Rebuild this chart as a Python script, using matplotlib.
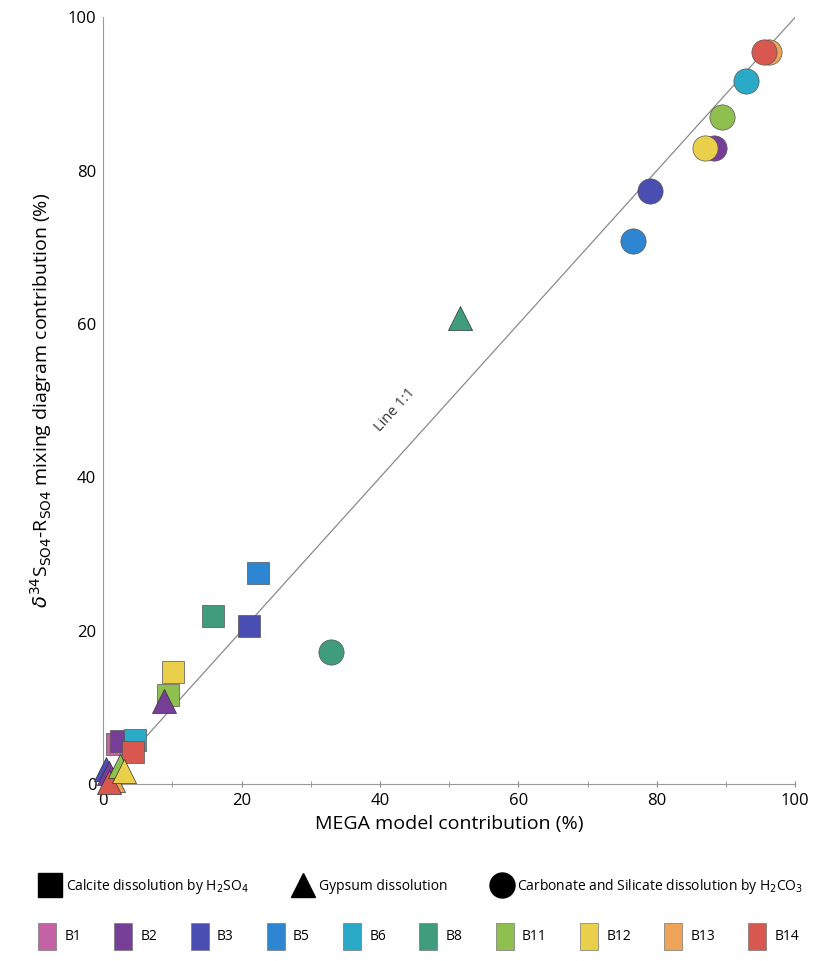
import matplotlib
matplotlib.use("Agg")
import matplotlib.pyplot as plt
from matplotlib.patches import Patch
from matplotlib.lines import Line2D

plt.rcParams['font.family'] = ['Open Sans', 'DejaVu Sans']

basins = ["B1", "B2", "B3", "B5", "B6", "B8", "B11", "B12", "B13", "B14"]
colors = ["#c462a6", "#773e98", "#4a4db2", "#2e86d2", "#2aaac6", "#3f9c7c",
          "#8fbf4e", "#ead04a", "#eea458", "#d8574f"]
cmap = dict(zip(basins, colors))

# Calcite dissolution by H2SO4 (squares)
sq_basin = ["B1", "B2", "B6", "B14", "B8", "B3", "B5", "B11", "B12"]
sq_x = [2.0, 2.6, 4.6, 4.3, 15.8, 21.0, 22.4, 9.3, 10.1]
sq_y = [5.3, 5.6, 5.8, 4.2, 21.9, 20.6, 27.6, 11.6, 14.6]

# Gypsum dissolution (triangles)
tr_basin = ["B3", "B2", "B13", "B14", "B11", "B12", "B2", "B8"]
tr_x = [0.4, 0.9, 1.4, 0.8, 2.4, 3.0, 8.8, 51.6]
tr_y = [2.0, 1.4, 0.6, 0.3, 2.4, 1.7, 10.9, 60.8]

# Carbonate and silicate dissolution by H2CO3 (circles)
ci_basin = ["B8", "B5", "B3", "B2", "B12", "B11", "B6", "B13", "B14"]
ci_x = [32.9, 76.6, 79.0, 88.3, 87.0, 89.5, 92.9, 96.2, 95.5]
ci_y = [17.2, 70.8, 77.4, 83.0, 83.0, 87.0, 91.7, 95.5, 95.5]

fig = plt.figure(figsize=(8.13, 9.61), dpi=100)
ax = fig.add_axes([0.127, 0.184, 0.851, 0.798])

ax.plot([0, 100], [0, 100], color="#8a8a8a", lw=0.9, zorder=1)
ax.text(42.2, 48.8, "Line 1:1", rotation=48, ha="center", va="center",
        fontsize=10.5, color="#333333")

for b, x, y in zip(sq_basin, sq_x, sq_y):
    ax.scatter(x, y, marker="s", s=260, color=cmap[b], edgecolors="#555555",
               linewidths=0.5, zorder=3, clip_on=False)
for b, x, y in zip(tr_basin, tr_x, tr_y):
    ax.scatter(x, y, marker="^", s=300, color=cmap[b], edgecolors="#333333",
               linewidths=0.5, zorder=4, clip_on=False)
for b, x, y in zip(ci_basin, ci_x, ci_y):
    ax.scatter(x, y, marker="o", s=330, color=cmap[b], edgecolors="#555555",
               linewidths=0.5, zorder=3, clip_on=False)

ax.set_xlim(0, 100)
ax.set_ylim(0, 100)
ax.set_xticks([0, 20, 40, 60, 80, 100])
ax.set_xticks([10, 30, 50, 70, 90], minor=True)
ax.set_yticks([0, 20, 40, 60, 80, 100])
for s in ["top", "right"]:
    ax.spines[s].set_visible(False)
for s in ["left", "bottom"]:
    ax.spines[s].set_color("#999999")
    ax.spines[s].set_linewidth(0.8)
ax.tick_params(axis="x", which="both", direction="inout", length=5,
               color="#888888", labelsize=12, pad=4)
ax.tick_params(axis="y", which="both", length=0, labelsize=12, pad=5)
ax.set_xlabel("MEGA model contribution (%)", fontsize=14, labelpad=4)
ax.set_ylabel(r"$\delta^{34}$S$_{\mathrm{SO4}}$-R$_{\mathrm{SO4}}$ mixing diagram contribution (%)",
              fontsize=14, labelpad=10)

shape_handles = [
    Line2D([], [], marker="s", color="black", linestyle="none", markersize=17),
    Line2D([], [], marker="^", color="black", linestyle="none", markersize=17),
    Line2D([], [], marker="o", color="black", linestyle="none", markersize=18),
]
shape_labels = [r"Calcite dissolution by H$_2$SO$_4$", "Gypsum dissolution",
                r"Carbonate and Silicate dissolution by H$_2$CO$_3$"]
fig.legend(shape_handles, shape_labels, loc="lower left",
           bbox_to_anchor=(0.045, 0.062, 0.95, 0.04), mode="expand",
           ncol=3, frameon=False, fontsize=10,
           handletextpad=0.5, handlelength=1.2, borderaxespad=0)

col_handles = [Patch(facecolor=cmap[b], edgecolor="#777777", linewidth=0.5) for b in basins]
fig.legend(col_handles, basins, loc="lower left",
           bbox_to_anchor=(0.04, 0.006, 0.95, 0.04), mode="expand",
           ncol=10, frameon=False, fontsize=10,
           handlelength=1.3, handleheight=2.6, handletextpad=0.6,
           borderaxespad=0)

fig.savefig("out.png", dpi=100)
